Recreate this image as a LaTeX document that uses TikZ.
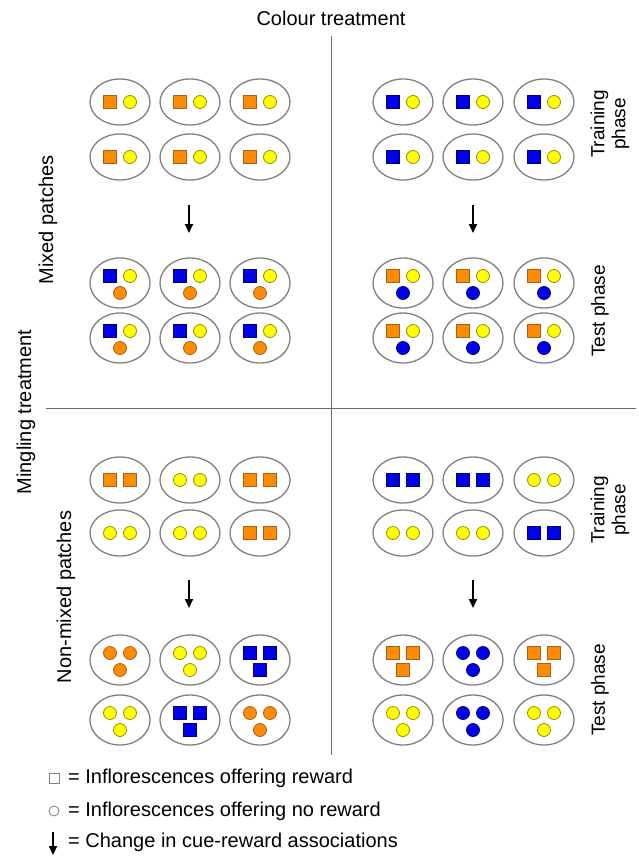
\documentclass[tikz,border=0pt]{standalone}
\usepackage{fontspec}
\setmainfont{Liberation Sans}
\usetikzlibrary{arrows.meta,shapes.geometric}

\definecolor{orng}{RGB}{255,140,0}
\definecolor{orngdk}{RGB}{165,95,30}
\definecolor{ylw}{RGB}{255,255,0}
\definecolor{ylwdk}{RGB}{150,140,0}
\definecolor{blu}{RGB}{0,0,235}
\definecolor{bludk}{RGB}{0,0,120}

\tikzset{
  patch/.style={ellipse, draw=gray, line width=1.3pt, minimum width=60pt, minimum height=46pt, inner sep=0pt},
  tpatch/.style={patch, minimum height=50pt},
  osq/.style={draw=orngdk, fill=orng, minimum size=13pt, inner sep=0pt, line width=0.8pt},
  bsq/.style={draw=bludk, fill=blu, minimum size=13pt, inner sep=0pt, line width=0.8pt},
  ycirc/.style={circle, draw=ylwdk, fill=ylw, minimum size=13pt, inner sep=0pt, line width=0.8pt},
  ocirc/.style={circle, draw=orngdk, fill=orng, minimum size=13pt, inner sep=0pt, line width=0.8pt},
  bcirc/.style={circle, draw=bludk, fill=blu, minimum size=13pt, inner sep=0pt, line width=0.8pt},
  phase/.style={rotate=90, align=center, font=\fontsize{19}{21}\selectfont},
  divider/.style={draw=gray!85!black, line width=1pt},
  chg/.style={line width=2pt, -{Triangle[length=9pt,width=8pt]}},
  keytext/.style={anchor=west, inner sep=0pt},
}

% patch with two inflorescences side by side
\newcommand{\pairpatch}[5]{%
  \node[patch] (#1) at (#2,#3) {};
  \node[#4] (#1l) at ([xshift=-10pt]#1.center) {};
  \node[#5] (#1r) at ([xshift=10pt]#1.center) {};
}
% patch with three inflorescences
\newcommand{\tripatch}[6]{%
  \node[tpatch] (#1) at (#2,#3) {};
  \node[#4] (#1l) at ([xshift=-10pt,yshift=7pt]#1.center) {};
  \node[#5] (#1r) at ([xshift=10pt,yshift=7pt]#1.center) {};
  \node[#6] (#1b) at ([yshift=-10pt]#1.center) {};
}

\begin{document}
\begin{tikzpicture}[x=1pt,y=-1pt,font=\fontsize{20}{23}\selectfont]
\useasboundingbox (0,0) rectangle (638,857);

% headings
\node (colour) at (331,18) {Colour treatment};
\node[rotate=90] (mingling) at (26,412) {Mingling treatment};
\node[rotate=90] (mixed) at (48,220) {Mixed patches};
\node[rotate=90] (nonmixed) at (66,597) {Non-mixed patches};
\node[phase] (train1) at (610,124) {Training\\phase};
\node[phase] (test1) at (600,311) {Test phase};
\node[phase] (train2) at (610,510) {Training\\phase};
\node[phase] (test2) at (600,690) {Test phase};

% dividers
\coordinate (vtop) at (331,36);
\coordinate (vbot) at (331,755);
\coordinate (hleft) at (46,408);
\coordinate (hright) at (636,408);
\draw[divider] (vtop) -- (vbot);
\draw[divider] (hleft) -- (hright);

% mixed patches, left
\pairpatch{a11}{120}{102}{osq}{ycirc}
\pairpatch{a12}{190}{102}{osq}{ycirc}
\pairpatch{a13}{260}{102}{osq}{ycirc}
\pairpatch{a21}{120}{157}{osq}{ycirc}
\pairpatch{a22}{190}{157}{osq}{ycirc}
\pairpatch{a23}{260}{157}{osq}{ycirc}
\tripatch{a31}{120}{283}{bsq}{ycirc}{ocirc}
\tripatch{a32}{190}{283}{bsq}{ycirc}{ocirc}
\tripatch{a33}{260}{283}{bsq}{ycirc}{ocirc}
\tripatch{a41}{120}{338}{bsq}{ycirc}{ocirc}
\tripatch{a42}{190}{338}{bsq}{ycirc}{ocirc}
\tripatch{a43}{260}{338}{bsq}{ycirc}{ocirc}

% mixed patches, right
\pairpatch{b11}{403}{102}{bsq}{ycirc}
\pairpatch{b12}{473}{102}{bsq}{ycirc}
\pairpatch{b13}{544}{102}{bsq}{ycirc}
\pairpatch{b21}{403}{157}{bsq}{ycirc}
\pairpatch{b22}{473}{157}{bsq}{ycirc}
\pairpatch{b23}{544}{157}{bsq}{ycirc}
\tripatch{b31}{403}{283}{osq}{ycirc}{bcirc}
\tripatch{b32}{473}{283}{osq}{ycirc}{bcirc}
\tripatch{b33}{544}{283}{osq}{ycirc}{bcirc}
\tripatch{b41}{403}{338}{osq}{ycirc}{bcirc}
\tripatch{b42}{473}{338}{osq}{ycirc}{bcirc}
\tripatch{b43}{544}{338}{osq}{ycirc}{bcirc}

% non-mixed patches, left
\pairpatch{c11}{120}{480}{osq}{osq}
\pairpatch{c12}{190}{480}{ycirc}{ycirc}
\pairpatch{c13}{260}{480}{osq}{osq}
\pairpatch{c21}{120}{533}{ycirc}{ycirc}
\pairpatch{c22}{190}{533}{ycirc}{ycirc}
\pairpatch{c23}{260}{533}{osq}{osq}
\tripatch{c31}{120}{660}{ocirc}{ocirc}{ocirc}
\tripatch{c32}{190}{660}{ycirc}{ycirc}{ycirc}
\tripatch{c33}{260}{660}{bsq}{bsq}{bsq}
\tripatch{c41}{120}{720}{ycirc}{ycirc}{ycirc}
\tripatch{c42}{190}{720}{bsq}{bsq}{bsq}
\tripatch{c43}{260}{720}{ocirc}{ocirc}{ocirc}

% non-mixed patches, right
\pairpatch{d11}{403}{480}{bsq}{bsq}
\pairpatch{d12}{473}{480}{bsq}{bsq}
\pairpatch{d13}{544}{480}{ycirc}{ycirc}
\pairpatch{d21}{403}{533}{ycirc}{ycirc}
\pairpatch{d22}{473}{533}{ycirc}{ycirc}
\pairpatch{d23}{544}{533}{bsq}{bsq}
\tripatch{d31}{403}{660}{osq}{osq}{osq}
\tripatch{d32}{473}{660}{bcirc}{bcirc}{bcirc}
\tripatch{d33}{544}{660}{osq}{osq}{osq}
\tripatch{d41}{403}{720}{ycirc}{ycirc}{ycirc}
\tripatch{d42}{473}{720}{bcirc}{bcirc}{bcirc}
\tripatch{d43}{544}{720}{ycirc}{ycirc}{ycirc}

% changes between phases
\coordinate (ch1s) at (189,205);
\coordinate (ch1e) at (189,233);
\coordinate (ch2s) at (473,205);
\coordinate (ch2e) at (473,233);
\coordinate (ch3s) at (189,580);
\coordinate (ch3e) at (189,608);
\coordinate (ch4s) at (473,580);
\coordinate (ch4e) at (473,608);
\draw[chg] (ch1s) -- (ch1e);
\draw[chg] (ch2s) -- (ch2e);
\draw[chg] (ch3s) -- (ch3e);
\draw[chg] (ch4s) -- (ch4e);

% legend
\node[draw=gray, line width=0.8pt, minimum size=10pt, inner sep=0pt] (keysq) at (54,778) {};
\node[keytext] (key1) at (68,778) {= Inflorescences offering reward};
\node[circle, draw=gray, line width=0.8pt, minimum size=10pt, inner sep=0pt] (keyci) at (54,811) {};
\node[keytext] (key2) at (68,811) {= Inflorescences offering no reward};
\coordinate (keyas) at (53,832);
\coordinate (keyae) at (53,855);
\draw[chg, line width=1.6pt] (keyas) -- (keyae);
\node[keytext] (key3) at (68,842) {= Change in cue-reward associations};
\end{tikzpicture}
\end{document}
